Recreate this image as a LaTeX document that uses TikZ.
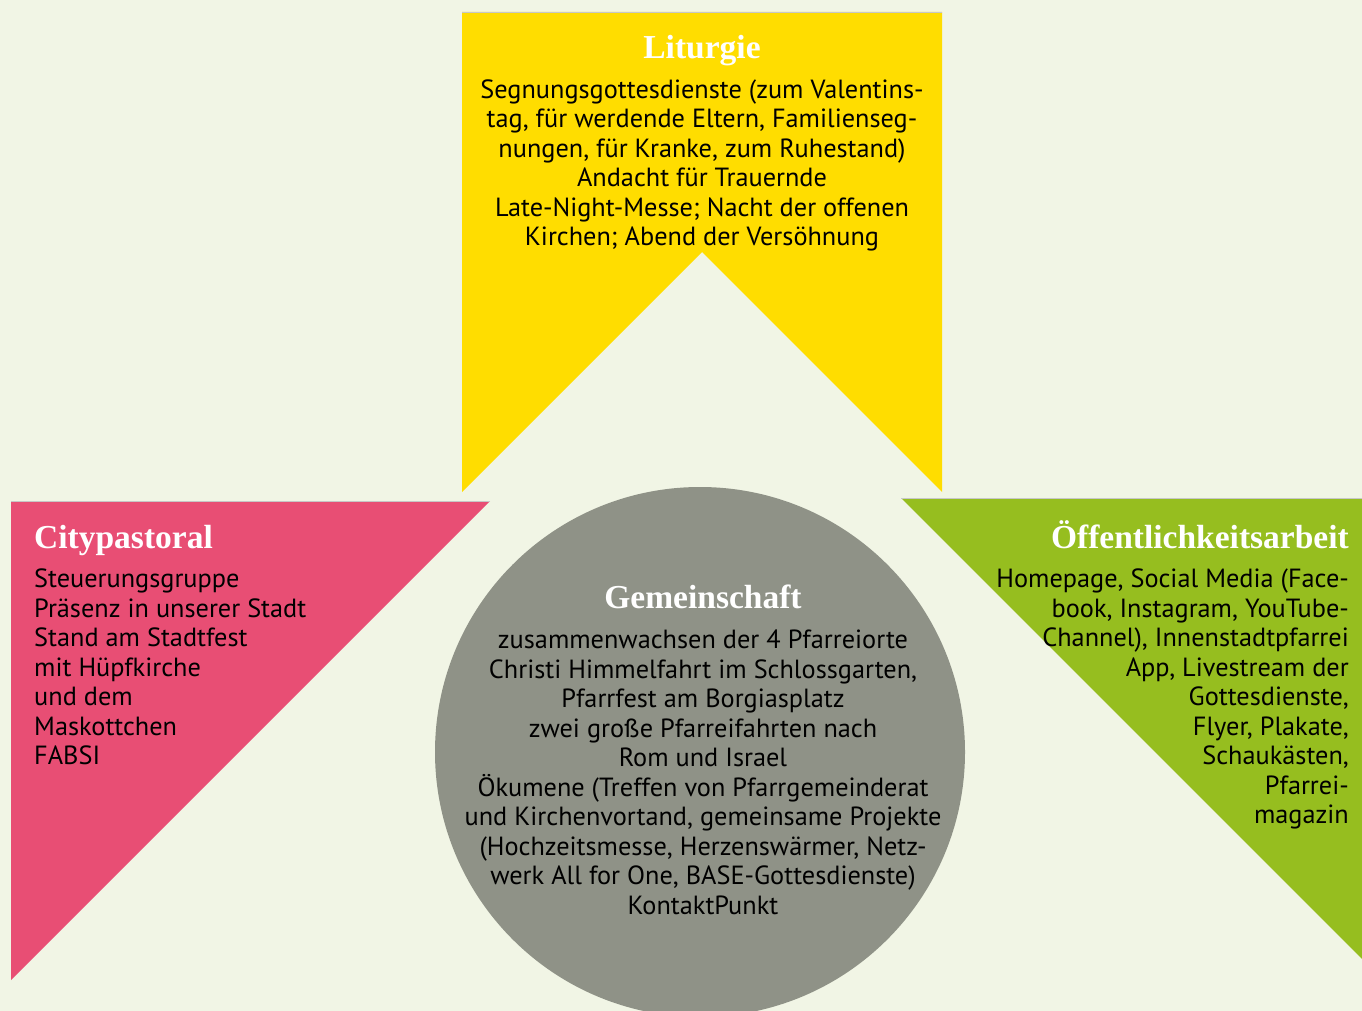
\documentclass[tikz,border=0pt]{standalone}
\usepackage{fontspec}
\setmainfont{PT Sans}
\newfontfamily\titlefont{Liberation Serif}
\definecolor{bg}{HTML}{F1F5E5}
\definecolor{lityellow}{HTML}{FFDD00}
\definecolor{citypink}{HTML}{E84E74}
\definecolor{pubgreen}{HTML}{96BE1F}
\definecolor{gemgrey}{HTML}{8F9287}
\begin{document}
\begin{tikzpicture}[x=1pt,y=-1pt,
  title/.style={text=white,font=\titlefont\bfseries\fontsize{33.5}{36}\selectfont,inner sep=0pt,anchor=base},
  body/.style={font=\fontsize{26.3}{29.5}\selectfont,inner sep=0pt,anchor=north},
  edge/.style={black!22,line width=1pt}]
\fill[bg](0,0)rectangle(1362,1011);
\useasboundingbox(0,0)rectangle(1362,1011);
% shapes
\fill[lityellow](462,12)--(942,12)--(942,492)--(702,252)--(462,492)--cycle;
\draw[edge](462,12.5)--(942,12.5);
\fill[citypink](11,501)--(490,501)--(11,980)--cycle;
\draw[edge](11,501.5)--(490,501.5);
\fill[pubgreen](901,498)--(1380,498)--(1380,977)--cycle;
\draw[edge](901,498.5)--(1362,498.5);
\fill[gemgrey](700,752)circle(265);
% Liturgie
\node[title](liturgie) at (702,59) {Liturgie};
\node[body,align=center](liturgie text) at (702,79.5) {Segnungsgottesdienste (zum Valentins-\\
tag, für werdende Eltern, Familienseg-\\
nungen, für Kranke, zum Ruhestand)\\
Andacht für Trauernde\\
Late-Night-Messe; Nacht der offenen\\
Kirchen; Abend der Versöhnung};
% Citypastoral
\node[title,anchor=base west](city) at (34,548) {Citypastoral};
\node[body,align=left,anchor=north west](city text) at (34,569) {Steuerungsgruppe\\
Präsenz in unserer Stadt\\
Stand am Stadtfest\\
mit Hüpfkirche\\
und dem\\
Maskottchen\\
FABSI};
% Oeffentlichkeitsarbeit
\node[title,anchor=base east](oeff) at (1349,548) {Öffentlichkeitsarbeit};
\node[body,align=right,anchor=north east](oeff text) at (1349,569) {Homepage, Social Media (Face-\\
book, Instagram, YouTube-\\
Channel), Innenstadtpfarrei\\
App, Livestream der\\
Gottesdienste,\\
Flyer, Plakate,\\
Schaukästen,\\
Pfarrei-\\
magazin};
% Gemeinschaft
\node[title](gem) at (703,608) {Gemeinschaft};
\node[body,align=center](gem text) at (703,630) {zusammenwachsen der 4 Pfarreiorte\\
Christi Himmelfahrt im Schlossgarten,\\
Pfarrfest am Borgiasplatz\\
zwei große Pfarreifahrten nach\\
Rom und Israel\\
Ökumene (Treffen von Pfarrgemeinderat\\
und Kirchenvortand, gemeinsame Projekte\\
(Hochzeitsmesse, Herzenswärmer, Netz-\\
werk All for One, BASE-Gottesdienste)\\
KontaktPunkt};
\end{tikzpicture}
\end{document}
